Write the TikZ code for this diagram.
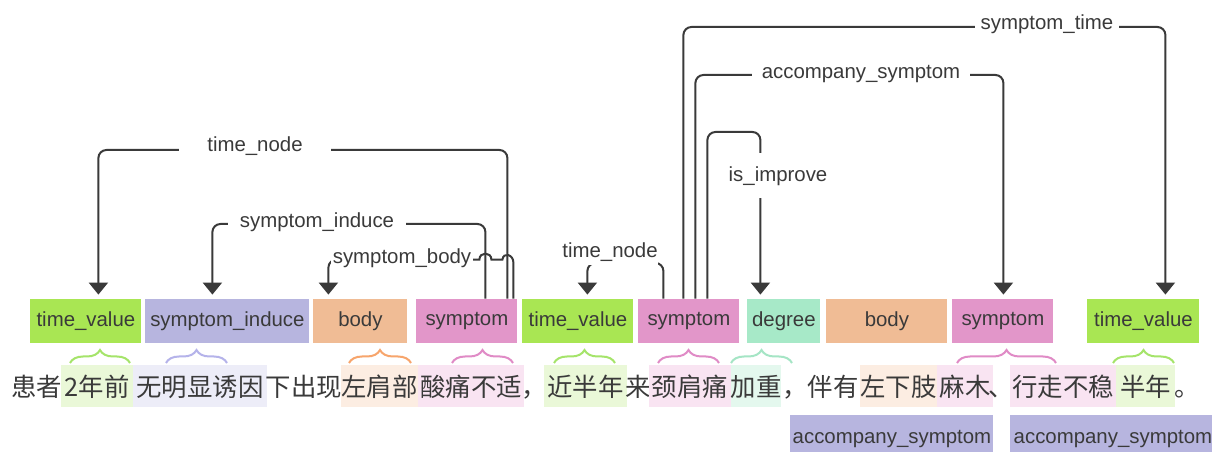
\documentclass[tikz,border=0pt]{standalone}
\usepackage{fontspec}
\setsansfont{Liberation Sans}
\newfontfamily\cjkfont{Noto Sans CJK SC}
\usetikzlibrary{arrows.meta, calc, decorations.pathreplacing}

\definecolor{inkgray}{HTML}{3A3A3A}
\definecolor{timecol}{HTML}{A9E653}
\definecolor{inducecol}{HTML}{B7B5DF}
\definecolor{bodycol}{HTML}{F0BC95}
\definecolor{symcol}{HTML}{E296C9}
\definecolor{degreecol}{HTML}{A7E9C8}
\definecolor{hlgreen}{HTML}{EAF8D8}
\definecolor{hllav}{HTML}{EDEDF8}
\definecolor{hlpeach}{HTML}{FCEDE2}
\definecolor{hlpink}{HTML}{F9E4F2}
\definecolor{hlmint}{HTML}{E4F8EE}
\definecolor{brgreen}{HTML}{A5E46A}
\definecolor{brlav}{HTML}{B5B3EA}
\definecolor{brorange}{HTML}{F7A56C}
\definecolor{brpink}{HTML}{E08BC6}
\definecolor{brmint}{HTML}{A5E5C5}

\begin{document}
\begin{tikzpicture}[
    x=0.5bp, y=-0.5bp,
    % Styles
    tagbox/.style={minimum height=22bp, inner sep=0pt, anchor=west, text=inkgray,
        font=\sffamily\fontsize{10.2bp}{12bp}\selectfont},
    timebox/.style={tagbox, fill=timecol},
    inducebox/.style={tagbox, fill=inducecol},
    bodybox/.style={tagbox, fill=bodycol},
    symbox/.style={tagbox, fill=symcol},
    degreebox/.style={tagbox, fill=degreecol},
    textspan/.style={anchor=base, inner xsep=0pt, inner ysep=0pt, text height=16bp, text depth=5bp,
        text=inkgray, font=\cjkfont\fontsize{12.7bp}{15bp}\selectfont},
    spanbrace/.style={decorate, decoration={brace, amplitude=6.5bp}, line width=1bp},
    relline/.style={draw=inkgray, line width=1bp, rounded corners=4bp,
        -{Triangle[width=9.5bp, length=6bp]}, shorten >=2bp},
    rellabel/.style={fill=white, inner ysep=2bp, text=inkgray,
        font=\sffamily\fontsize{10.2bp}{12bp}\selectfont},
]
    \path[use as bounding box, fill=white] (0,0) rectangle (1212,452);

    % Sentence with highlighted spans
    \node[textspan, minimum width=24.5bp] (s1) at (36.5,397) {患者};
    \node[textspan, fill=hlgreen, minimum width=36bp] (s2) at (97,397) {2年前};
    \node[textspan, fill=hllav, minimum width=67bp] (s3) at (200,397) {无明显诱因};
    \node[textspan] (s4) at (304,397) {下出现};
    \node[textspan, fill=hlpeach, minimum width=38.5bp] (s5) at (379.5,397) {左肩部};
    \node[textspan, fill=hlpink, minimum width=53bp] (s6) at (471,397) {酸痛不适};
    \node[textspan] (s7) at (534,397) {，};
    \node[textspan, fill=hlgreen, minimum width=41.5bp] (s8) at (585.5,397) {近半年};
    \node[textspan] (s9) at (638,397) {来};
    \node[textspan, fill=hlpink, minimum width=41bp] (s10) at (690,397) {颈肩痛};
    \node[textspan, fill=hlmint, minimum width=25bp] (s11) at (756,397) {加重};
    \node[textspan] (s12) at (820.5,397) {，伴有};
    \node[textspan, fill=hlpeach, minimum width=38.5bp] (s13) at (898.5,397) {左下肢};
    \node[textspan, fill=hlpink, minimum width=28bp] (s14) at (965,397) {麻木};
    \node[textspan] (s15) at (1001.5,397) {、};
    \node[textspan, fill=hlpink, minimum width=53bp] (s16) at (1063,397) {行走不稳};
    \node[textspan, fill=hlgreen, minimum width=29.5bp] (s17) at (1145.5,397) {半年};
    \node[textspan] (s18) at (1187.5,397) {。};

    % Braces between tags and spans
    \foreach \xa/\xb/\col in {70/130/brgreen, 166/227/brlav, 349/411/brorange, 452/513/brpink,
        554/615/brgreen, 658/719/brpink, 731/792/brmint, 957/1056/brpink, 1113/1174/brgreen}
        \draw[spanbrace, \col] (\xa,363) -- (\xb,363);

    % Entity tags
    \node[timebox, minimum width=55.5bp] (tv1) at (30,321) {time\_value};
    \node[inducebox, minimum width=82bp] (induce) at (145,321) {symptom\_induce};
    \node[bodybox, minimum width=47bp] (body1) at (313,321) {body};
    \node[symbox, minimum width=50.5bp] (sym1) at (416,321) {symptom};
    \node[timebox, minimum width=55.5bp] (tv2) at (522,321) {time\_value};
    \node[symbox, minimum width=50.5bp] (sym2) at (638,321) {symptom};
    \node[degreebox, minimum width=36.5bp] (degree) at (747,321) {degree};
    \node[bodybox, minimum width=60.5bp] (body2) at (826,321) {body};
    \node[symbox, minimum width=50.5bp] (sym3) at (952,321) {symptom};
    \node[timebox, minimum width=56bp] (tv3) at (1087,321) {time\_value};

    % Relation tags below the sentence
    \node[inducebox, anchor=north west, minimum width=101.5bp, minimum height=24bp] (acc1) at (790,415) {accompany\_symptom};
    \node[inducebox, anchor=north west, minimum width=102.5bp, minimum height=24bp] (acc2) at (1010,415) {accompany\_symptom};

    % Relations from the first symptom
    \coordinate (tn1) at (255,150);
    \coordinate (si) at (317,224);
    \draw[relline] ($(sym1.north)+(40.5,0)$) |- (tn1) -| ($(tv1.north)+(12.5,0)$);
    \draw[relline] ($(sym1.north)+(18.5,0)$) |- (si) -| ($(induce.north)+(-15,0)$);
    \draw[relline, sharp corners] ($(sym1.north)+(46.5,0)$) -- ++(0,-36)
        .. controls +(0,-8) and +(1,-8) .. ++(-11,-3) -- ++(-11,0)
        .. controls +(0,-8) and +(0,-8) .. ++(-12,0)
        [rounded corners=4bp] -| ($(body1.north)+(-32,0)$);

    % Relations from the second symptom
    \coordinate (tn2) at (610,263);
    \coordinate (st) at (1047,27);
    \coordinate (as) at (861,75);
    \coordinate (ii) at (735,132);
    \draw[relline] ($(sym2.north)+(-25.5,0)$) |- (tn2) -| ($(tv2.north)+(9.5,0)$);
    \draw[relline] ($(sym2.north)+(-5.5,0)$) |- (st) -| ($(tv3.north)+(22,0)$);
    \draw[relline] ($(sym2.north)+(6.5,0)$) |- (as) -| ($(sym3.north)+(0.5,0)$);
    \draw[relline] ($(sym2.north)+(18.5,0)$) |- (ii) -| ($(degree.north)+(-23.5,0)$);

    % Relation labels
    \node[rellabel, inner xsep=14bp] (tn1lbl) at ([yshift=2bp]tn1) {time\_node};
    \node[rellabel, inner xsep=5.75bp] (silbl) at ([yshift=1bp]si) {symptom\_induce};
    \node[rellabel, inner xsep=1bp] (sblbl) at (402,258) {symptom\_body};
    \node[rellabel, inner sep=0pt, minimum height=13bp] (tn2lbl) at (610,252) {time\_node};
    \node[rellabel, inner xsep=3bp] (stlbl) at ([yshift=1.5bp]st) {symptom\_time};
    \node[rellabel, inner xsep=5bp] (aslbl) at ([yshift=0.5bp]as) {accompany\_symptom};
    \node[rellabel, inner sep=0pt, minimum height=22.5bp] (iilbl) at (778,176) {is\_improve};

\end{tikzpicture}
\end{document}
